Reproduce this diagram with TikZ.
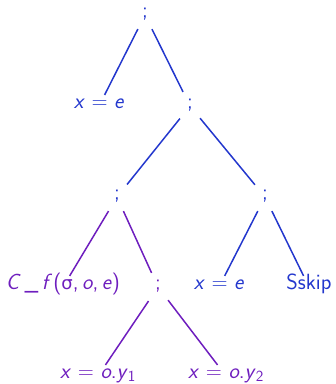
\documentclass[tikz,border=0pt]{standalone}
\usepackage{fontspec}
\newfontfamily\greekfont{DejaVu Sans}
\definecolor{tblue}{RGB}{35,55,205}
\definecolor{tpurple}{RGB}{110,30,190}
\newcommand\vv[1]{\textsl{#1}}
\newcommand\eqs{\hspace{0.3em}=\hspace{0.3em}}
\begin{document}
\begin{tikzpicture}[x=1pt,y=-1pt,
  lbl/.style={font=\sffamily\fontsize{22}{26}\selectfont, inner xsep=4pt, inner ysep=7pt, text height=1.5ex, text depth=.3ex},
  semi/.style={inner xsep=7pt, inner ysep=10pt},
  bl/.style={lbl,text=tblue},
  pl/.style={lbl,text=tpurple},
  be/.style={draw=tblue,line width=1.5pt},
  pe/.style={draw=tpurple,line width=1.5pt}]
\useasboundingbox (0,0) rectangle (336,384);
\node[bl,semi] (r) at (145,15) {;};
\node[bl] (a1) at (99,106) {\vv{x}\eqs\vv{e}};
\node[bl,semi] (s2) at (190,106) {;};
\node[bl,semi] (s3l) at (117,197) {;};
\node[bl,semi] (s3r) at (265,197) {;};
\node[pl] (cf) at (63,287) {\vv{C}\,\_\,\vv{f}\kern1pt(\raisebox{0pt}{\greekfont\fontsize{18}{20}\selectfont σ},\,\vv{o},\,\vv{e})};
\node[pl,semi] (s4) at (158,287) {;};
\node[bl] (xe) at (219,287) {\vv{x}\eqs\vv{e}};
\node[bl] (sk) at (309,287) {Sskip};
\node[pl] (y1) at (98,376) {\vv{x}\eqs\vv{o}.\vv{y}\textsubscript{1}};
\node[pl] (y2) at (226,376) {\vv{x}\eqs\vv{o}.\vv{y}\textsubscript{2}};
\draw[be] (r) -- (a1);
\draw[be] (r) -- (s2);
\draw[be] (s2) -- (s3l);
\draw[be] (s2) -- (s3r);
\draw[pe] (s3l) -- (cf);
\draw[pe] (s3l) -- (s4);
\draw[be] (s3r) -- (xe);
\draw[be] (s3r) -- (sk);
\draw[pe] (s4) -- (y1);
\draw[pe] (s4) -- (y2);
\end{tikzpicture}
\end{document}
